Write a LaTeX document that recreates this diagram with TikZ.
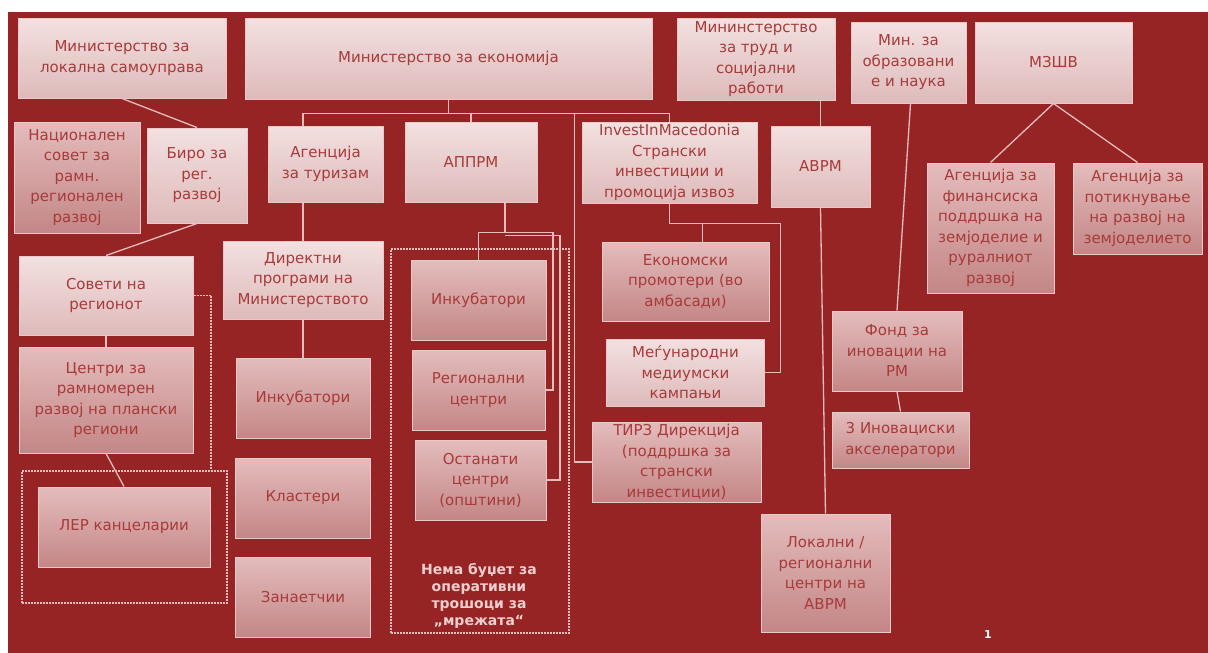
\documentclass[tikz,border=0pt]{standalone}
\usepackage{fontspec}
\setmainfont{DejaVu Sans}
\usetikzlibrary{positioning}
\definecolor{bgred}{RGB}{150,36,36}
\definecolor{lt1}{RGB}{243,224,224}
\definecolor{lt2}{RGB}{222,186,186}
\definecolor{dk1}{RGB}{228,188,188}
\definecolor{dk2}{RGB}{196,134,134}
\definecolor{edge}{RGB}{234,200,200}
\definecolor{wire}{RGB}{230,188,188}
\definecolor{ink}{RGB}{168,58,58}
\definecolor{note}{RGB}{240,206,206}
\newcommand\boxtxt{\fontsize{15}{20.5}\selectfont}

\begin{document}
\begin{tikzpicture}[x=1pt,y=-1pt,box/.style={draw=edge,line width=1pt,top color=lt1,bottom color=lt2,text=ink,align=center,inner sep=1pt,font=\boxtxt},dark/.style={box,top color=dk1,bottom color=dk2},wh/.style 2 args={minimum width=#1,minimum height=#2},lnk/.style={draw=wire,line width=1.3pt},grp/.style={draw=wire,line width=1.6pt,dash pattern=on 2pt off 1pt}]
  \useasboundingbox (0,0) rectangle (1208,653);
  \fill[white] (0,0) rectangle (1208,653);
  \fill[bgred] (8,12) rectangle (1208,653);
  \node[grp,wh={205}{132}] (lg) at (124.5,537) {};
  \node[grp,wh={178}{384}] (ag) at (480,441) {};
  \node[box,wh={208}{80}] (ml) at (122,58) {Министерство за\\локална самоуправа};
  \node[box,wh={407}{81}] (me) at (448.5,58.5) {Министерство за економија};
  \node[box,wh={158}{82}] (mt) at (756,59) {Мининстерство\\за труд и\\социјални\\работи};
  \node[box,wh={115}{81}] (mo) at (908.5,62.5) {Мин. за\\образовани\\е и наука};
  \node[box,wh={157}{81}] (mz) at (1053.5,62.5) {МЗШВ};
  \node[dark,wh={126}{111}] (ns) at (77,177.5) {Национален\\совет за\\рамн.\\регионален\\развој};
  \node[box,wh={100}{95}] (br) at (197,175.5) {Биро за\\рег.\\развој};
  \node[box,wh={115}{76}] (at) at (325.5,164) {Агенција\\за туризам};
  \node[box,wh={132}{80}] (ap) at (471,162) {АППРМ};
  \node[box,wh={175}{81}] (im) at (669.5,162.5) {InvestInMacedonia\\Странски\\инвестиции и\\промоција извоз};
  \node[box,wh={99}{81}] (av) at (820.5,166.5) {АВРМ};
  \node[dark,wh={127}{130}] (af) at (990.5,228) {Агенција за\\финансиска\\поддршка на\\земјоделие и\\руралниот\\развој};
  \node[dark,wh={129}{91}] (ar) at (1137.5,208.5) {Агенција за\\потикнување\\на развој на\\земјоделието};
  \node[box,wh={174}{79}] (sr) at (106,295.5) {Совети на\\регионот};
  \node[dark,wh={174}{106}] (cr) at (106,400) {Центри за\\рамномерен\\развој на плански\\региони};
  \node[dark,wh={172}{80}] (lk) at (124,527) {ЛЕР канцеларии};
  \node[box,wh={160}{78}] (dp) at (303,280) {Директни\\програми на\\Министерството};
  \node[dark,wh={134}{80}] (i1) at (303,398) {Инкубатори};
  \node[dark,wh={135}{80},below=19pt of i1] (kl) {Кластери};
  \node[dark,wh={135}{80},below=18pt of kl] (zn) {Занаетчии};
  \node[dark,wh={135}{80}] (i2) at (478.5,300) {Инкубатори};
  \node[dark,wh={133}{80},below=9pt of i2] (rc) {Регионални\\центри};
  \node[dark,wh={131}{80}] (oc) at (480.5,480) {Останати\\центри\\(општини)};
  \node[dark,wh={167}{79}] (ep) at (685.5,281.5) {Економски\\промотери (во\\амбасади)};
  \node[box,wh={158}{67},below=17pt of ep] (mk) {Меѓународни\\медиумски\\кампањи};
  \node[dark,wh={169}{80}] (tz) at (676.5,462) {ТИРЗ Дирекција\\(поддршка за\\странски\\инвестиции)};
  \node[dark,wh={130}{80}] (fi) at (897,351) {Фонд за\\иновации на\\РМ};
  \node[dark,wh={137}{56}] (ia) at (900.5,440) {3 Иновациски\\акселератори};
  \node[dark,wh={129}{118}] (lc) at (825.5,573) {Локални /\\регионални\\центри на\\АВРМ};
  \node[text=note,font=\bfseries\fontsize{14}{17}\selectfont,align=center] (nb) at (479,596) {Нема буџет за\\оперативни\\трошоци за\\„мрежата“};
  \node[text=white,font=\bfseries\fontsize{11}{12}\selectfont] (pg) at (988,634) {1};
  \draw[lnk] (ml.south) -- (br.north);
  \draw[lnk] (br.south) -- (sr.north);
  \draw[lnk] (sr.south) -- (cr.north);
  \draw[lnk] (cr.south) -- (lk.north);
  \draw[grp] (sr.east) -| ([xshift=-17pt]lg.north east);
  \draw[lnk] (me.south) -- ++(0,14) coordinate (bus);
  \draw[lnk] (bus) -| (at.north -| dp.north);
  \draw[lnk] (at.south -| dp.north) -- (dp.north);
  \draw[lnk] (dp.south) -- (i1.north);
  \draw[lnk] (bus) -| (ap.north);
  \draw[lnk] (bus) -| (im.north);
  \draw[lnk] (tz.west) -- ++(-17,0) |- (bus);
  \draw[lnk] ([xshift=34pt]ap.south) -- ++(0,30) coordinate (apb) -| (i2.north);
  \draw[lnk] (apb) -- ++(48,0) |- (rc.east);
  \draw[lnk] ([yshift=-3pt]apb) -- ++(55,0) |- (oc.east);
  \draw[lnk] (im.south) -- ++(0,20) coordinate (imb) -| ([xshift=17pt]ep.north);
  \draw[lnk] (imb) -- ++(111,0) |- (mk.east);
  \draw[lnk] (mt.south -| av.north) -- (av.north);
  \draw[lnk] (av.south) -- (lc.north);
  \draw[lnk] ([xshift=2pt]mo.south) -- (fi.north);
  \draw[lnk] (fi.south) -- (ia.north);
  \draw[lnk] (mz.south) -- (af.north);
  \draw[lnk] (mz.south) -- (ar.north);
\end{tikzpicture}
\end{document}
